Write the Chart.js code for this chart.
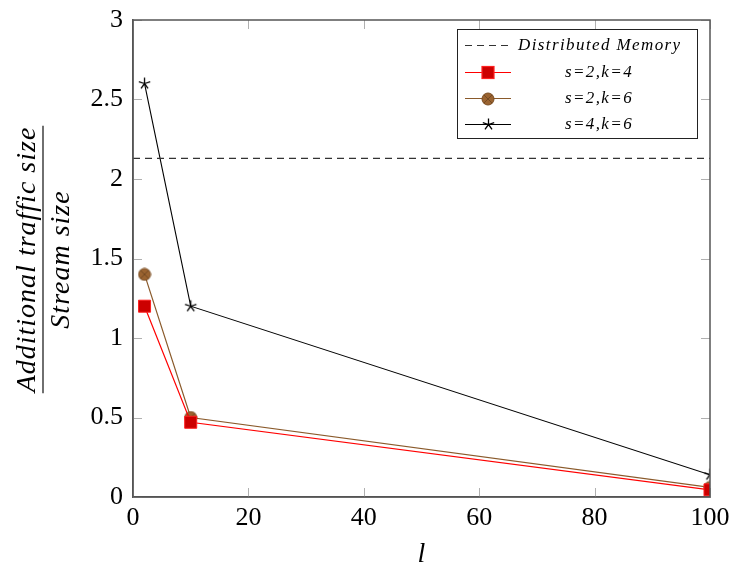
<!DOCTYPE html>
<html>
<head>
<meta charset="utf-8">
<script src="https://cdn.jsdelivr.net/npm/chart.js@4/dist/chart.umd.min.js"></script>
<style>
  html, body { margin: 0; padding: 0; background: #fff; }
  #wrap { width: 731px; height: 574px; }
</style>
</head>
<body>
<div id="wrap"><canvas id="chart" width="731" height="574"></canvas></div>
<script>
// data
const lValues = [2, 10, 100];
const s2k4 = [1.2, 0.47, 0.045];
const s2k6 = [1.4, 0.5, 0.06];
const s4k6 = [2.6, 1.2, 0.14];
const distributedMemory = 2.13;
const xTicks = [0, 20, 40, 60, 80, 100];
const yTicks = [0, 0.5, 1, 1.5, 2, 2.5, 3];
const seriesNames = ['Distributed Memory', 's=2,k=4', 's=2,k=6', 's=4,k=6'];

const serif = '"Liberation Serif", "DejaVu Serif", serif';

// marker images
function makeOtimes(r) {
    const c = document.createElement('canvas');
    c.width = c.height = 2 * r + 2;
    const g = c.getContext('2d');
    const m = r + 1;
    g.beginPath();
    g.arc(m, m, r, 0, Math.PI * 2);
    g.fillStyle = '#9a6330';
    g.fill();
    g.strokeStyle = '#7a4d22';
    g.lineWidth = 1;
    g.stroke();
    const d = r * 0.7;
    g.beginPath();
    g.moveTo(m - d, m - d); g.lineTo(m + d, m + d);
    g.moveTo(m + d, m - d); g.lineTo(m - d, m + d);
    g.strokeStyle = '#6b4420';
    g.lineWidth = 0.8;
    g.stroke();
    return c;
}

function makeStar(r) {
    const c = document.createElement('canvas');
    c.width = c.height = 2 * r + 3;
    const g = c.getContext('2d');
    const m = r + 1.5;
    g.beginPath();
    for (let k = 0; k < 5; k++) {
        const a = -Math.PI / 2 + k * 2 * Math.PI / 5;
        g.moveTo(m, m);
        g.lineTo(m + r * Math.cos(a), m + r * Math.sin(a));
    }
    g.strokeStyle = '#000';
    g.lineWidth = 1.3;
    g.stroke();
    return c;
}

const otimes = makeOtimes(6);
const star = makeStar(6);

function pts(ys) {
    return lValues.map((x, i) => ({ x: x, y: ys[i] }));
}

// inward tick marks on all four sides + top/right frame
const frameTicks = {
    id: 'frameTicks',
    afterDatasetsDraw(chart) {
        const { ctx, chartArea: a, scales } = chart;
        const len = 9;
        ctx.save();
        ctx.strokeStyle = '#b0b0b0';
        ctx.lineWidth = 1;
        ctx.beginPath();
        xTicks.forEach(v => {
            const px = Math.round(scales.x.getPixelForValue(v)) + 0.5;
            ctx.moveTo(px, a.bottom); ctx.lineTo(px, a.bottom - len);
            ctx.moveTo(px, a.top); ctx.lineTo(px, a.top + len);
        });
        yTicks.forEach(v => {
            const py = Math.round(scales.y.getPixelForValue(v)) + 0.5;
            ctx.moveTo(a.left, py); ctx.lineTo(a.left + len, py);
            ctx.moveTo(a.right, py); ctx.lineTo(a.right - len, py);
        });
        ctx.stroke();
        ctx.strokeStyle = '#555';
        ctx.lineWidth = 1.5;
        ctx.strokeRect(a.left, a.top, a.right - a.left, a.bottom - a.top);
        ctx.restore();
    }
};

// axis titles (y title is a fraction)
const axisTitles = {
    id: 'axisTitles',
    afterDraw(chart) {
        const { ctx, chartArea: a } = chart;
        ctx.save();
        ctx.fillStyle = '#000';
        ctx.font = 'italic 28px ' + serif;
        ctx.textAlign = 'center';
        ctx.textBaseline = 'alphabetic';
        ctx.fillText('l', (a.left + a.right) / 2, 562);

        ctx.translate(43, (a.top + a.bottom) / 2 + 1);
        ctx.rotate(-Math.PI / 2);
        ctx.font = 'italic 28px ' + serif;
        ctx.letterSpacing = '1px';
        const num = 'Additional traffic size';
        const den = 'Stream size';
        const w = ctx.measureText(num).width + 2;
        ctx.fillText(num, 0, -8);
        ctx.textBaseline = 'top';
        ctx.fillText(den, 0, 5);
        ctx.strokeStyle = '#333';
        ctx.lineWidth = 1.4;
        ctx.beginPath();
        ctx.moveTo(-w / 2, 0); ctx.lineTo(w / 2, 0);
        ctx.stroke();
        ctx.restore();
    }
};

// legend box inside the plot, top right
const boxLegend = {
    id: 'boxLegend',
    afterDraw(chart) {
        const { ctx } = chart;
        const x0 = 457, y0 = 29, w = 240, h = 109;
        ctx.save();
        ctx.fillStyle = '#fff';
        ctx.fillRect(x0, y0, w, h);
        ctx.strokeStyle = '#222';
        ctx.lineWidth = 1;
        ctx.strokeRect(x0 + 0.5, y0 + 0.5, w, h);
        const rows = [45, 72, 98, 124];
        chart.data.datasets.forEach((ds, i) => {
            const y = rows[i] + 0.5;
            ctx.beginPath();
            ctx.setLineDash(ds.borderDash || []);
            ctx.strokeStyle = ds.borderColor;
            ctx.lineWidth = ds.borderWidth;
            ctx.moveTo(465, y); ctx.lineTo(511, y);
            ctx.stroke();
            ctx.setLineDash([]);
            const ps = ds.pointStyle;
            if (ps === 'rect') {
                ctx.fillStyle = ds.pointBackgroundColor;
                ctx.strokeStyle = ds.pointBorderColor;
                ctx.fillRect(482, y - 6, 12, 12);
                ctx.strokeRect(482, y - 6, 12, 12);
            } else if (ps instanceof HTMLCanvasElement) {
                ctx.drawImage(ps, Math.round(488 - ps.width / 2), Math.round(y - ps.height / 2));
            }
            ctx.fillStyle = '#000';
            ctx.font = 'italic 17px ' + serif;
            ctx.letterSpacing = '1.4px';
            ctx.textBaseline = 'middle';
            if (i === 0) {
                ctx.textAlign = 'left';
                ctx.fillText(ds.label, 518, y);
            } else {
                ctx.textAlign = 'center';
                ctx.fillText(ds.label, 599, y);
            }
        });
        ctx.restore();
    }
};

new Chart(document.getElementById('chart'), {
    type: 'line',
    data: {
        datasets: [{
            label: seriesNames[0],
            data: [{ x: xTicks[0], y: distributedMemory }, { x: xTicks[xTicks.length - 1], y: distributedMemory }],
            borderColor: '#333',
            borderWidth: 1.2,
            borderDash: [7, 5],
            pointRadius: 0,
            pointStyle: false
        }, {
            label: seriesNames[1],
            data: pts(s2k4),
            borderColor: '#ff0000',
            borderWidth: 1.2,
            pointStyle: 'rect',
            pointRadius: 8.5,
            pointBackgroundColor: '#cc0000',
            pointBorderColor: '#ff2020',
            pointBorderWidth: 1
        }, {
            label: seriesNames[2],
            data: pts(s2k6),
            borderColor: '#8a5a2b',
            borderWidth: 1.2,
            pointStyle: otimes,
            pointRadius: 6
        }, {
            label: seriesNames[3],
            data: pts(s4k6),
            borderColor: '#000',
            borderWidth: 1.1,
            pointStyle: star,
            pointRadius: 6
        }]
    },
    options: {
        responsive: false,
        animation: false,
        layout: { padding: { top: 20, right: 21, left: 0, bottom: 0 } },
        plugins: {
            legend: { display: false },
            tooltip: { enabled: false }
        },
        scales: {
            x: {
                type: 'linear',
                min: 0,
                max: 100,
                afterFit(scale) {
                    scale.height = 77;
                    scale.paddingLeft = 0;
                    scale.paddingRight = 0;
                },
                afterBuildTicks(scale) { scale.ticks = xTicks.map(v => ({ value: v })); },
                grid: { display: false, drawTicks: false },
                border: { display: true, color: '#555', width: 1.5 },
                ticks: {
                    padding: 6,
                    color: '#000',
                    font: { family: serif, size: 26 }
                }
            },
            y: {
                type: 'linear',
                min: 0,
                max: 3,
                afterFit(scale) {
                    scale.width = 133;
                    scale.paddingTop = 0;
                    scale.paddingBottom = 0;
                },
                afterBuildTicks(scale) { scale.ticks = yTicks.map(v => ({ value: v })); },
                grid: { display: false, drawTicks: false },
                border: { display: true, color: '#555', width: 1.5 },
                ticks: {
                    padding: 10,
                    color: '#000',
                    font: { family: serif, size: 26 },
                    callback: v => String(v)
                }
            }
        }
    },
    plugins: [frameTicks, axisTitles, boxLegend]
});
</script>
</body>
</html>
